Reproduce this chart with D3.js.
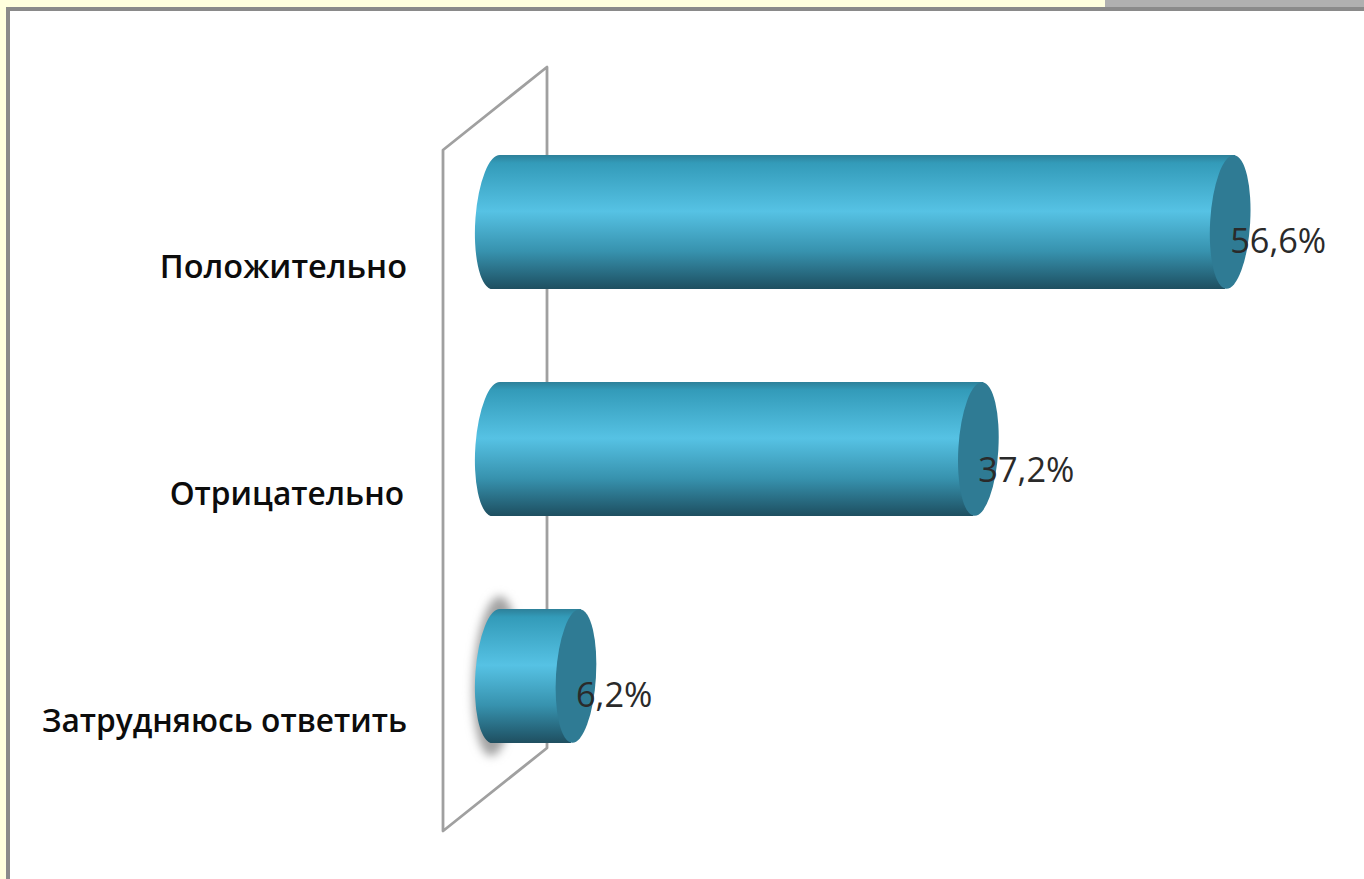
<!DOCTYPE html>
<html><head><meta charset="utf-8">
<script src="https://cdn.jsdelivr.net/npm/d3@7/dist/d3.min.js"></script>
<style>html,body{margin:0;padding:0;background:#fff;overflow:hidden}svg{display:block}</style>
</head><body><div id="chart"></div>
<script>
const categories = ["Положительно","Отрицательно","Затрудняюсь ответить"];
const values = [56.6,37.2,6.2];
const valueLabels = ["56,6%","37,2%","6,2%"];
const W=1364,H=879;
const svg=d3.select("#chart").append("svg").attr("width",W).attr("height",H);
const defs=svg.append("defs");
const grad=defs.append("linearGradient").attr("id","body").attr("x1",0).attr("x2",0).attr("y1",0).attr("y2",1);
[[0,"#2d8099"],[0.06,"#339bb9"],[0.42,"#56c2e4"],[0.72,"#3792ae"],[0.94,"#235d71"],[1,"#1f4f60"]]
  .forEach(([o,c])=>grad.append("stop").attr("offset",o).attr("stop-color",c));
defs.append("filter").attr("id","blur").attr("x","-60%").attr("y","-20%").attr("width","220%").attr("height","140%")
  .append("feGaussianBlur").attr("stdDeviation",5);

// frame
svg.append("rect").attr("x",0).attr("y",0).attr("width",W).attr("height",H).attr("fill","#ffffde");
svg.append("rect").attr("x",1105).attr("y",0).attr("width",W-1105).attr("height",8).attr("fill","#b0b0b0");
svg.append("rect").attr("x",6).attr("y",7).attr("width",W-6).attr("height",H-7).attr("fill","#8a8a8a");
svg.append("rect").attr("x",10).attr("y",11).attr("width",W-10).attr("height",H-11).attr("fill","#fff");

const x=d3.scaleLinear().domain([0,60]).range([495.5,495.5+778.8]);
const y=d3.scaleBand().domain(categories).range([108.5,789.5]).paddingInner(0.41).paddingOuter(0.205);
const rx=20, tilt=5, angle=3.4;

// back wall
const depth=104, wallTop=150, wallBottom=831, wallRise=83, wallLeft=443;
svg.append("path")
  .attr("d",`M${wallLeft},${wallTop}L${wallLeft+depth},${wallTop-wallRise}L${wallLeft+depth},${wallBottom-wallRise}L${wallLeft},${wallBottom}Z`)
  .attr("fill","none").attr("stroke","#a0a0a0").attr("stroke-width",2.8).attr("stroke-linejoin","round");

// shadow behind the smallest bar
const last=categories[2];
svg.append("ellipse")
  .attr("transform",`translate(${x(0)},${y(last)+y.bandwidth()/2}) rotate(${angle})`)
  .attr("rx",rx+2).attr("ry",y.bandwidth()/2+13)
  .attr("fill","#a2a2a2").attr("filter","url(#blur)");

const g=svg.append("g").selectAll("g").data(categories).join("g");
g.append("path").attr("fill","url(#body)").attr("d",(c,i)=>{
  const ry=y.bandwidth()/2,t=y(c),b=t+2*ry,x0=x(0),x1=x(values[i]);
  return `M${x0+tilt},${t}L${x1+tilt},${t}L${x1-tilt},${b}L${x0-tilt},${b}A${rx+1},${ry+0.3} ${angle} 0 1 ${x0+tilt},${t}Z`;
});
g.append("ellipse").attr("fill","#2f7b94")
  .attr("transform",(c,i)=>`translate(${x(values[i])},${y(c)+y.bandwidth()/2}) rotate(${angle})`)
  .attr("rx",rx).attr("ry",y.bandwidth()/2);

// category labels
svg.append("g").selectAll("text").data(categories).join("text")
  .attr("x",(c,i)=>i===1?404:407).attr("y",c=>y(c)+y.bandwidth()/2+56)
  .attr("text-anchor","end").attr("font-family","'Open Sans'").attr("font-weight",600)
  .attr("font-size",(c,i)=>i===0?32.5:31.7).attr("fill","#0c0c0c").text(c=>c);

// value labels
svg.append("g").selectAll("text").data(values).join("text")
  .attr("x",v=>x(v)).attr("y",(v,i)=>y(categories[i])+y.bandwidth()/2+(i===1?33:31))
  .attr("font-family","'Open Sans'").attr("font-size",34.3).attr("fill","#2a2a2a")
  .text((v,i)=>valueLabels[i]);
</script></body></html>
